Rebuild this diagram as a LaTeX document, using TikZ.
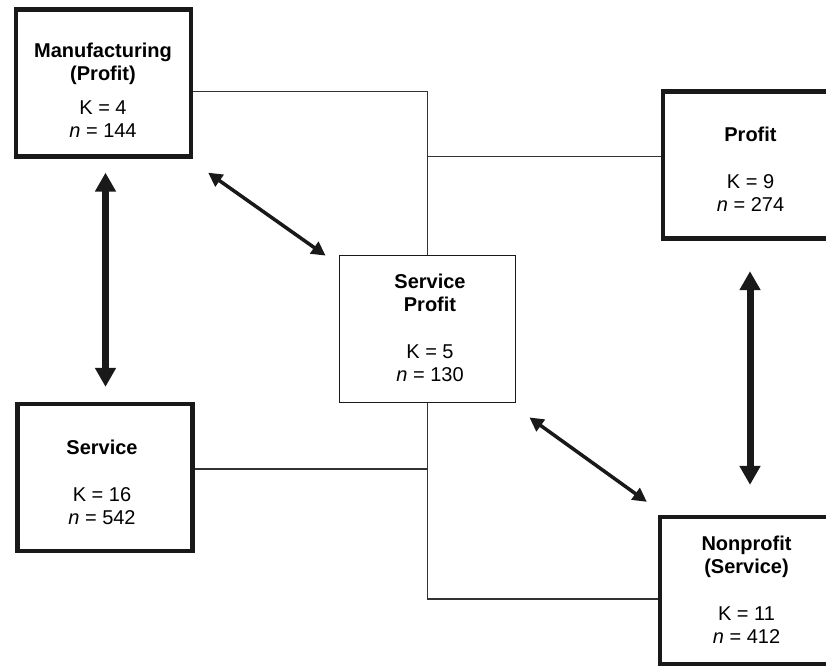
\documentclass[tikz,border=0pt]{standalone}
\usepackage{fontspec}
\setmainfont{Liberation Sans}
\usetikzlibrary{arrows.meta}
\begin{document}
\begin{tikzpicture}[x=1pt,y=-1pt,font=\fontsize{20}{23}\selectfont]
% Five cluster boxes, joined by thin tree lines and thick double arrows.
% Positions are in pixels of the original figure (y grows downwards).
\clip (0,0) rectangle (826,665);

\tikzset{
  heavy/.style={draw=black!90,line width=4.3pt,inner sep=0pt,minimum width=175pt,minimum height=147pt},
  light/.style={draw=black!90,line width=1.8pt,inner sep=0pt,minimum width=176pt,minimum height=147pt},
  txt/.style={align=center,inner sep=0pt,anchor=north},
  tree/.style={black!80,line width=1.3pt},
  bigdbl/.style={black!90,line width=7pt,{Triangle[length=19pt,width=20pt]}-{Triangle[length=19pt,width=20pt]}},
  smalldbl/.style={black!90,line width=3.5pt,{Triangle[length=14pt,width=14pt]}-{Triangle[length=14pt,width=14pt]}}
}

% Boxes.
\node[heavy] (mfg) at (103.5,83) {};
\node[heavy] (prof) at (750.5,165) {};
\node[light] (sp) at (427.5,329) {};
\node[heavy] (svc) at (105,477.5) {};
\node[heavy] (np) at (747.5,590.5) {};

% Box texts.
\node[txt] (mfgtxt) at (103,42.5) {\textbf{Manufacturing}\\\textbf{(Profit)}\\[11pt]K = 4\\\textit{n} = 144};
\node[txt] (proftxt) at (750.5,126.5) {\textbf{Profit}\\[24pt]K = 9\\\textit{n} = 274};
\node[txt] (sptxt) at (430,274) {\textbf{Service}\\\textbf{Profit}\\[24pt]K = 5\\\textit{n} = 130};
\node[txt] (svctxt) at (102,439.5) {\textbf{Service}\\[24pt]K = 16\\\textit{n} = 542};
\node[txt] (nptxt) at (746.5,536) {\textbf{Nonprofit}\\\textbf{(Service)}\\[24pt]K = 11\\\textit{n} = 412};

% Tree lines.
\draw[tree] ([yshift=-8.5pt]mfg.east) -| (sp.north);
\draw[tree] ([yshift=8.3pt]prof.west) -- ([yshift=8.3pt]prof.west -| sp.north);
\draw[tree] ([yshift=-8.5pt]np.west) -| (sp.south);
\draw[tree] ([yshift=8.5pt]svc.east) -- ([yshift=8.5pt]svc.east -| sp.south);

% Double arrows.
\draw[bigdbl] ([xshift=2pt,yshift=-14pt]mfg.south) -- ([xshift=0.5pt,yshift=15pt]svc.north);
\draw[bigdbl] ([xshift=-0.5pt,yshift=-30.5pt]prof.south) -- ([xshift=2.5pt,yshift=30pt]np.north);
\draw[smalldbl] ([xshift=15pt,yshift=-14pt]mfg.south east) -- ([xshift=-13pt,yshift=-1pt]sp.north west);
\draw[smalldbl] ([xshift=13pt,yshift=-14pt]sp.south east) -- ([xshift=-11pt,yshift=13pt]np.north west);
\end{tikzpicture}
\end{document}
